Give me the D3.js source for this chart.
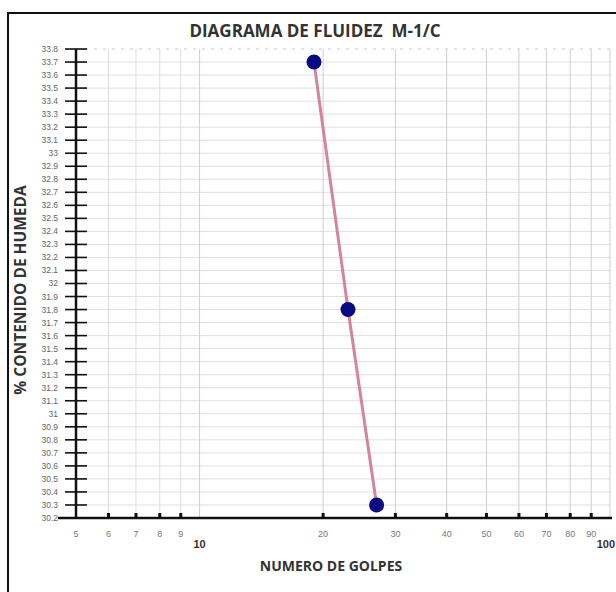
<!DOCTYPE html>
<html>
<head>
<meta charset="utf-8">
<script src="https://cdn.jsdelivr.net/npm/d3@7"></script>
<style>
  html, body { margin: 0; padding: 0; background: #fff; }
  svg { display: block; }
</style>
</head>
<body>
<div id="chart"></div>
<script>
// datos del ensayo
const golpes   = [19, 23, 27];
const humedad  = [33.7, 31.8, 30.3];
const xTicks   = [5, 6, 7, 8, 9, 10, 20, 30, 40, 50, 60, 70, 80, 90, 100];
const xBigTicks = [10, 100];
const yMin = 30.2, yMax = 33.8;

const W = 616, H = 592;
const svg = d3.select('#chart').append('svg').attr('width', W).attr('height', H);

// marco exterior
svg.append('rect')
  .attr('x', 8).attr('y', 13).attr('width', W + 10).attr('height', H + 10)
  .attr('fill', 'none').attr('stroke', '#111').attr('stroke-width', 2);

const x = d3.scaleLog().domain([5, 100]).range([76, 610]);
const y = d3.scaleLinear().domain([yMin, yMax]).range([518, 49]);

const yTicks = d3.range(0, 37).map(i => +(yMin + i * 0.1).toFixed(1));

// rejilla
svg.append('g').selectAll('line')
  .data(yTicks.slice(1))
  .join('line')
  .attr('x1', 76).attr('x2', 610)
  .attr('y1', d => y(d)).attr('y2', d => y(d))
  .attr('stroke', d => d === yMax ? '#c8c8c8' : '#e0e0e0')
  .attr('stroke-dasharray', d => d === yMax ? '3,6' : null)
  .attr('stroke-width', 1);

svg.append('g').selectAll('line')
  .data(xTicks.slice(1))
  .join('line')
  .attr('x1', d => x(d)).attr('x2', d => x(d))
  .attr('y1', 49).attr('y2', 518)
  .attr('stroke', d => (d >= 10 ? '#cfcfcf' : '#dedede'))
  .attr('stroke-width', 1);

// eje Y con cruces
const yAxis = svg.append('g').attr('transform', 'translate(76,0)');
yAxis.append('line').attr('y1', 49).attr('y2', 518).attr('stroke', '#111').attr('stroke-width', 2.5);
yAxis.selectAll('line.tk')
  .data(yTicks)
  .join('line').attr('class', 'tk')
  .attr('x1', -11).attr('x2', 11)
  .attr('y1', d => y(d)).attr('y2', d => y(d))
  .attr('stroke', '#111').attr('stroke-width', 1.6);
yAxis.selectAll('text')
  .data(yTicks)
  .join('text')
  .attr('x', -18).attr('y', d => y(d)).attr('dy', '0.35em')
  .attr('text-anchor', 'end')
  .attr('fill', '#666')
  .style('font-family', 'Liberation Sans, Arial, sans-serif')
  .style('font-size', '8.5px')
  .text(d => d3.format('~g')(d));

// eje X
svg.append('line')
  .attr('x1', 58).attr('x2', 612).attr('y1', 518).attr('y2', 518)
  .attr('stroke', '#111').attr('stroke-width', 2.5);
svg.append('g').selectAll('rect')
  .data(xTicks.filter(d => d !== 5 && d !== 10 && d !== 100))
  .join('rect')
  .attr('x', d => x(d) - 1.5).attr('y', 513).attr('width', 3).attr('height', 5)
  .attr('fill', '#111');

svg.append('g').selectAll('text')
  .data(xTicks)
  .join('text')
  .attr('x', d => d === 100 ? 615 : x(d))
  .attr('y', d => xBigTicks.includes(d) ? 548 : 537)
  .attr('text-anchor', d => d === 100 ? 'end' : 'middle')
  .attr('fill', d => xBigTicks.includes(d) ? '#333' : '#777')
  .style('font-family', 'Liberation Sans, Arial, sans-serif')
  .style('font-size', d => xBigTicks.includes(d) ? '11px' : '9px')
  .style('font-weight', d => xBigTicks.includes(d) ? '700' : '400')
  .text(d => d);

// línea de fluidez y puntos
const pts = golpes.map((g, i) => [g, humedad[i]]);
svg.append('path')
  .datum(pts)
  .attr('fill', 'none')
  .attr('stroke', '#d4849e')
  .attr('stroke-width', 3)
  .attr('d', d3.line().x(d => x(d[0])).y(d => y(d[1])));

svg.append('g').selectAll('circle')
  .data(pts)
  .join('circle')
  .attr('cx', d => x(d[0])).attr('cy', d => y(d[1]))
  .attr('r', 7.5)
  .attr('fill', '#0a0a82');

// títulos
svg.append('text')
  .attr('x', 315).attr('y', 37)
  .attr('text-anchor', 'middle')
  .attr('fill', '#333')
  .style('white-space', 'pre')
  .style('font-family', 'Open Sans, Liberation Sans, sans-serif')
  .style('font-size', '17px')
  .style('font-weight', '700')
  .text('DIAGRAMA DE FLUIDEZ  M-1/C');

svg.append('text')
  .attr('x', 331).attr('y', 571)
  .attr('text-anchor', 'middle')
  .attr('fill', '#333')
  .style('font-family', 'Open Sans, Liberation Sans, sans-serif')
  .style('font-size', '14px')
  .style('font-weight', '700')
  .text('NUMERO DE GOLPES');

svg.append('text')
  .attr('transform', 'translate(26,290) rotate(-90)')
  .attr('text-anchor', 'middle')
  .attr('fill', '#333')
  .style('font-family', 'Open Sans, Liberation Sans, sans-serif')
  .style('font-size', '15.5px')
  .style('font-weight', '700')
  .text('% CONTENIDO DE HUMEDA');
</script>
</body>
</html>
